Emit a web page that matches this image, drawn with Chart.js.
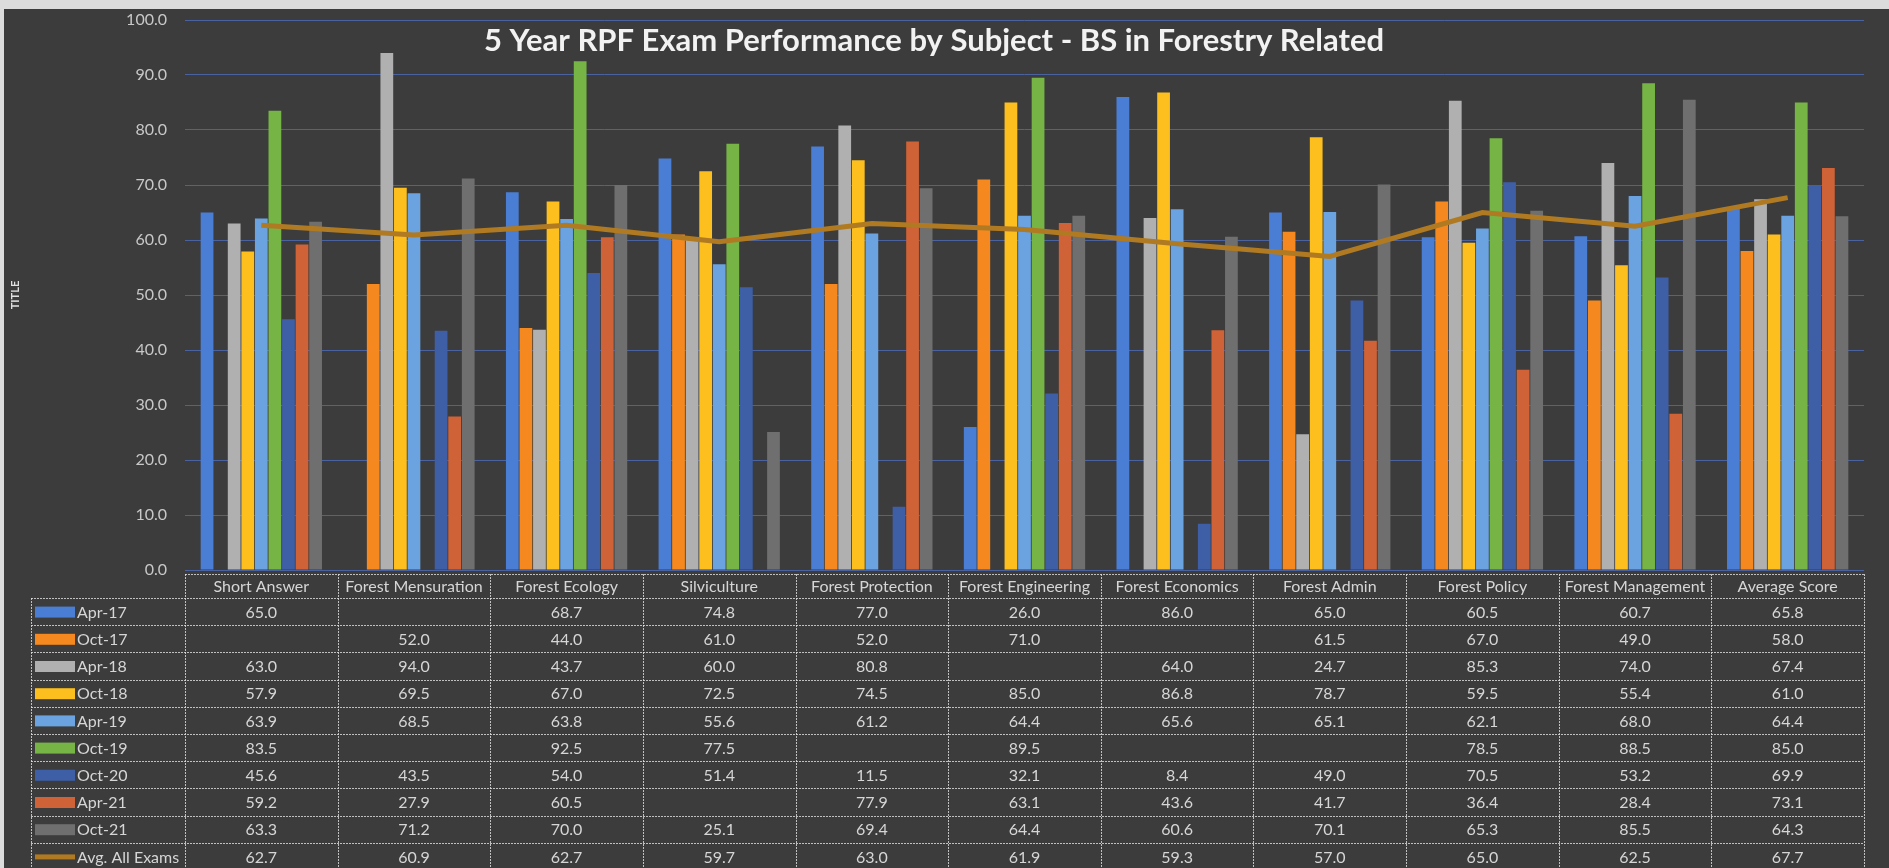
<!DOCTYPE html>
<html>
<head>
<meta charset="utf-8">
<script src="https://cdn.jsdelivr.net/npm/chart.js@4.4.1/dist/chart.umd.min.js"></script>
<style>
  body { margin: 0; background: #3c3c3c; }
  #wrap { width: 1889px; height: 868px; }
</style>
</head>
<body>
<div id="wrap"><canvas id="rpfChart"></canvas></div>
<script>
const chartTitle = "5 Year RPF Exam Performance by Subject - BS in Forestry Related"
const subjects = ["Short Answer", "Forest Mensuration", "Forest Ecology", "Silviculture", "Forest Protection",
  "Forest Engineering", "Forest Economics", "Forest Admin", "Forest Policy", "Forest Management", "Average Score"]
const examLabels = ["Apr-17", "Oct-17", "Apr-18", "Oct-18", "Apr-19", "Oct-19", "Oct-20", "Apr-21", "Oct-21"]
const avgLabel = "Avg. All Exams"

const apr17 = [65.0, null, 68.7, 74.8, 77.0, 26.0, 86.0, 65.0, 60.5, 60.7, 65.8]
const oct17 = [null, 52.0, 44.0, 61.0, 52.0, 71.0, null, 61.5, 67.0, 49.0, 58.0]
const apr18 = [63.0, 94.0, 43.7, 60.0, 80.8, null, 64.0, 24.7, 85.3, 74.0, 67.4]
const oct18 = [57.9, 69.5, 67.0, 72.5, 74.5, 85.0, 86.8, 78.7, 59.5, 55.4, 61.0]
const apr19 = [63.9, 68.5, 63.8, 55.6, 61.2, 64.4, 65.6, 65.1, 62.1, 68.0, 64.4]
const oct19 = [83.5, null, 92.5, 77.5, null, 89.5, null, null, 78.5, 88.5, 85.0]
const oct20 = [45.6, 43.5, 54.0, 51.4, 11.5, 32.1, 8.4, 49.0, 70.5, 53.2, 69.9]
const apr21 = [59.2, 27.9, 60.5, null, 77.9, 63.1, 43.6, 41.7, 36.4, 28.4, 73.1]
const oct21 = [63.3, 71.2, 70.0, 25.1, 69.4, 64.4, 60.6, 70.1, 65.3, 85.5, 64.3]
const avgAllExams = [62.7, 60.9, 62.7, 59.7, 63.0, 61.9, 59.3, 57.0, 65.0, 62.5, 67.7]

const yTicks = [0, 10, 20, 30, 40, 50, 60, 70, 80, 90, 100]

const examSeries = [apr17, oct17, apr18, oct18, apr19, oct19, oct20, apr21, oct21]
const barColors = ["#4a7ed4", "#f5891f", "#b0b0b0", "#fcbf1e", "#6aa3e0", "#76b545", "#3e5fa6", "#cf6236", "#6f6f6f"]
const lineColor = "#b07a22"
const textColor = "#d6d6d6"
const font = "Lato, 'Open Sans', sans-serif"

const datasets = examSeries.map((values, i) => ({
  type: 'bar',
  label: examLabels[i],
  data: values,
  backgroundColor: barColors[i],
  categoryPercentage: 0.8,
  barPercentage: 0.94,
  order: 1
}))
datasets.push({
  type: 'line',
  label: avgLabel,
  data: avgAllExams,
  borderColor: lineColor,
  borderWidth: 5,
  pointRadius: 0,
  tension: 0,
  order: 0
})

// dark backdrop with the light strip at the top
const backdrop = {
  id: 'backdrop',
  beforeDraw(chart) {
    const ctx = chart.ctx
    ctx.save()
    ctx.fillStyle = "#3c3c3c"
    ctx.fillRect(0, 0, chart.width, chart.height)
    ctx.fillStyle = "#dcdcdc"
    ctx.fillRect(0, 0, chart.width, 9)
    ctx.fillRect(0, 0, 4, chart.height)
    ctx.restore()
  }
}

// title over the plot + data table under it
const tablePlugin = {
  id: 'dataTable',
  afterDraw(chart) {
    const ctx = chart.ctx
    const area = chart.chartArea
    const x = chart.scales.x
    const colW = (area.right - area.left) / subjects.length
    const top = area.bottom + 4
    const headH = 24
    const rowH = 27.2
    const keyLeft = 31
    const bottom = chart.height

    ctx.save()
    ctx.fillStyle = "#f2f2f2"
    ctx.font = "bold 31px " + font
    ctx.textAlign = "center"
    ctx.textBaseline = "middle"
    ctx.fillText(chartTitle, 934, 41)

    ctx.strokeStyle = "rgba(225,225,225,0.8)"
    ctx.lineWidth = 1
    ctx.setLineDash([2, 1])
    ctx.beginPath()
    ctx.moveTo(area.left, top + 0.5)
    ctx.lineTo(area.right, top + 0.5)
    for (let r = 0; r <= examLabels.length + 1; r++) {
      const y = Math.round(top + headH + r * rowH) + 0.5
      ctx.moveTo(keyLeft, y)
      ctx.lineTo(area.right, y)
    }
    for (let c = 0; c <= subjects.length; c++) {
      const xx = Math.round(area.left + c * colW) + 0.5
      ctx.moveTo(xx, top)
      ctx.lineTo(xx, bottom)
    }
    ctx.moveTo(keyLeft + 0.5, top + headH)
    ctx.lineTo(keyLeft + 0.5, bottom)
    ctx.stroke()
    ctx.setLineDash([])

    ctx.fillStyle = textColor
    ctx.font = "16px " + font
    subjects.forEach((s, i) => ctx.fillText(s, x.getPixelForValue(i), top + headH / 2 + 1))

    const rows = examSeries.map((v, i) => ({ label: examLabels[i], values: v, color: barColors[i], line: false }))
    rows.push({ label: avgLabel, values: avgAllExams, color: lineColor, line: true })
    rows.forEach((row, r) => {
      const cy = top + headH + r * rowH + rowH / 2 + 1
      ctx.fillStyle = row.color
      if (row.line) ctx.fillRect(keyLeft + 4, cy - 3, 40, 5)
      else ctx.fillRect(keyLeft + 4, cy - 6, 40, 11)
      ctx.fillStyle = textColor
      ctx.textAlign = "left"
      ctx.fillText(row.label, keyLeft + 46, cy)
      ctx.textAlign = "center"
      row.values.forEach((v, i) => {
        if (v !== null) ctx.fillText(v.toFixed(1), x.getPixelForValue(i), cy)
      })
    })
    ctx.restore()
  }
}

const canvas = document.getElementById("rpfChart")
const ctx = canvas.getContext('2d')

const myChart = new Chart(ctx, {
  data: {
    labels: subjects,
    datasets: datasets
  },
  options: {
    responsive: true,
    maintainAspectRatio: false,
    animation: false,
    layout: {
      padding: { left: 5, top: 20, right: 25, bottom: 298 }
    },
    plugins: {
      legend: { display: false },
      tooltip: { enabled: false },
      title: { display: false }
    },
    scales: {
      x: {
        display: false
      },
      y: {
        min: 0,
        max: 100,
        afterBuildTicks: (scale) => { scale.ticks = yTicks.map(v => ({ value: v })) },
        afterFit: (scale) => {
          scale.width = 180
          scale.paddingTop = 0
          scale.paddingBottom = 0
        },
        border: { display: false },
        grid: {
          color: "#4a63a0",
          lineWidth: 1,
          drawTicks: false
        },
        ticks: {
          color: "#c8c8c8",
          padding: 18,
          font: { family: font, size: 16 },
          callback: (v) => Number(v).toFixed(1)
        },
        title: {
          display: true,
          text: 'TITLE',
          color: "#e0e0e0",
          font: { family: font, size: 11, weight: 'bold' },
          padding: { top: 4, bottom: 0 }
        }
      }
    }
  },
  plugins: [backdrop, tablePlugin]
})
</script>
</body>
</html>
